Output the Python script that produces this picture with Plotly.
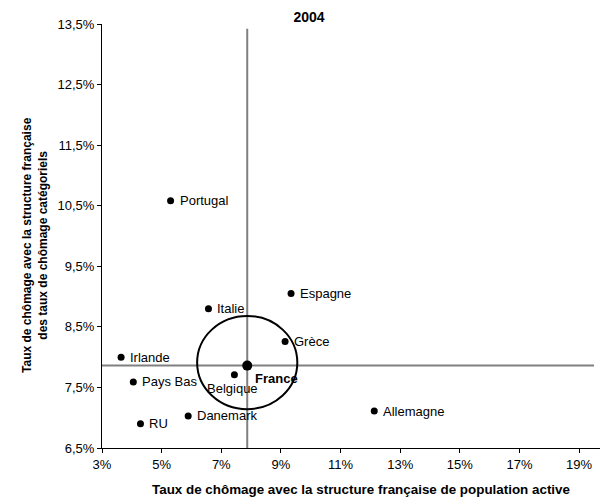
import plotly.graph_objects as go

countries = ["Portugal", "Espagne", "Italie", "Grèce", "Irlande", "Pays Bas",
             "Belgique", "Allemagne", "Danemark", "RU"]
x_vals = [5.30, 9.34, 6.57, 9.14, 3.64, 4.05, 7.44, 12.13, 5.89, 4.29]
y_vals = [10.58, 9.05, 8.80, 8.26, 8.00, 7.59, 7.71, 7.11, 7.03, 6.90]

france_name = "France"
france_x = 7.87
france_y = 7.86

x_ticks = [3, 5, 7, 9, 11, 13, 15, 17, 19]
x_ticktext = ["3%", "5%", "7%", "9%", "11%", "13%", "15%", "17%", "19%"]
y_ticks = [6.5, 7.5, 8.5, 9.5, 10.5, 11.5, 12.5, 13.5]
y_ticktext = ["6,5%", "7,5%", "8,5%", "9,5%", "10,5%", "11,5%", "12,5%", "13,5%"]

FONT = "Liberation Sans, Arial, sans-serif"

fig = go.Figure()

# reference lines through France
fig.add_shape(type="line", xref="x", yref="y", x0=france_x, x1=france_x,
              y0=6.5, y1=13.42, line=dict(color="#808080", width=2), layer="below")
fig.add_shape(type="line", xref="x", yref="y", x0=3, x1=19.5,
              y0=france_y, y1=france_y, line=dict(color="#808080", width=2), layer="below")
# circle around France
fig.add_shape(type="circle", xref="x", yref="y", x0=6.19, x1=9.55, y0=7.14, y1=8.68,
              line=dict(color="black", width=2))

fig.add_trace(go.Scatter(
    x=x_vals, y=y_vals, mode="markers",
    marker=dict(color="black", size=7),
    showlegend=False, cliponaxis=False))

fig.add_trace(go.Scatter(
    x=[france_x], y=[france_y], mode="markers",
    marker=dict(color="black", size=10),
    showlegend=False, cliponaxis=False))

annotations = []
for name, xv, yv in zip(countries, x_vals, y_vals):
    if name == "Belgique":
        annotations.append(dict(x=xv, y=yv, xref="x", yref="y", text=name, showarrow=False,
                                xanchor="center", yanchor="top", xshift=-2, yshift=-4,
                                font=dict(family=FONT, size=13, color="black")))
    else:
        annotations.append(dict(x=xv, y=yv, xref="x", yref="y", text=name, showarrow=False,
                                xanchor="left", yanchor="middle", xshift=7,
                                font=dict(family=FONT, size=13, color="black")))
annotations.append(dict(x=france_x, y=france_y, xref="x", yref="y",
                        text="<b>" + france_name + "</b>", showarrow=False,
                        xanchor="left", yanchor="top", xshift=6, yshift=-3,
                        font=dict(family=FONT, size=13, color="black")))

# axis titles
annotations.append(dict(x=0.52, y=-0.099, xref="paper", yref="paper",
                        text="<b>Taux de chômage avec la structure française de population active</b>",
                        showarrow=False, xanchor="center", yanchor="middle",
                        font=dict(family=FONT, size=13.4, color="black")))
annotations.append(dict(x=-0.1345, y=0.479, xref="paper", yref="paper", textangle=-90,
                        text="<b>Taux de chômage avec la structure française<br>des taux de chômage catégoriels</b>",
                        showarrow=False, xanchor="center", yanchor="middle",
                        font=dict(family=FONT, size=12, color="black")))

fig.update_layout(
    width=601, height=500,
    margin=dict(l=102, r=1, t=24, b=52),
    paper_bgcolor="white", plot_bgcolor="white",
    font=dict(family=FONT, size=13, color="black"),
    title=dict(text="<b>2004</b>", x=309 / 601, xref="container", xanchor="center",
               y=1 - 17 / 500, yref="container", yanchor="middle",
               font=dict(family=FONT, size=14, color="black")),
    annotations=annotations,
)

fig.update_xaxes(range=[3, 19.7], tickvals=x_ticks, ticktext=x_ticktext, automargin=False,
                 showgrid=False, zeroline=False, showline=True, linecolor="black",
                 linewidth=1, ticks="outside", ticklen=4, tickcolor="black",
                 tickfont=dict(family=FONT, size=13))
fig.update_yaxes(range=[6.5, 13.5], tickvals=y_ticks, ticktext=y_ticktext, automargin=False,
                 showgrid=False, zeroline=False, showline=True, linecolor="black",
                 linewidth=1, ticks="outside", ticklen=4, tickcolor="black",
                 tickfont=dict(family=FONT, size=13))

fig.write_html("out.html", config={"displayModeBar": False},
               post_script="document.body.style.margin='0';document.body.style.overflow='hidden';")
